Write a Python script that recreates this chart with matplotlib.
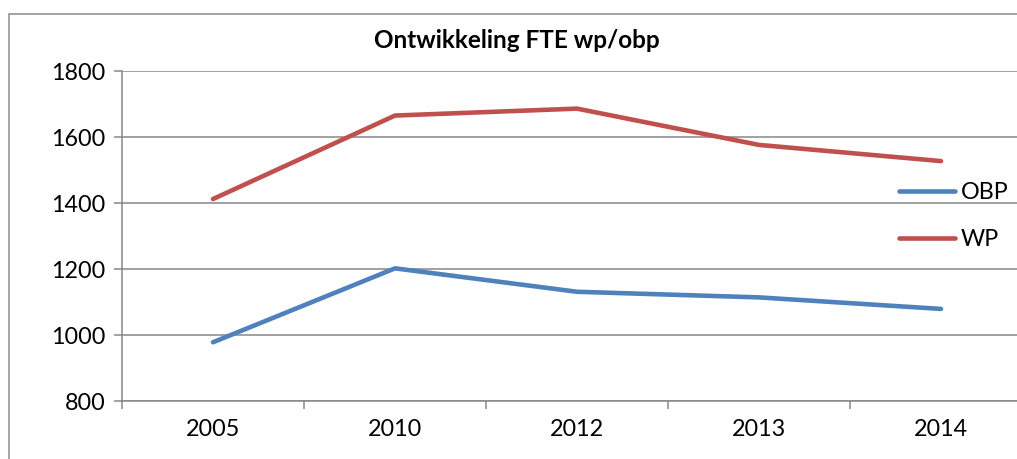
import matplotlib.pyplot as plt
from matplotlib.patches import Rectangle

years = ['2005', '2010', '2012', '2013', '2014']
obp = [978, 1202, 1131, 1114, 1079]
wp = [1412, 1665, 1686, 1576, 1527]
yticks = [800, 1000, 1200, 1400, 1600, 1800]

plt.rcParams['font.family'] = ['Lato', 'DejaVu Sans']
grid_col = '#878787'
fs = 16.8

W, H = 1017, 459
fig = plt.figure(figsize=(W / 100, H / 100), dpi=100)
fig.patch.set_facecolor('white')

# chart border (cropped at right and bottom)
fig.patches.append(Rectangle((9 / W, -0.1), 1.2, 1.1 - 14 / H, transform=fig.transFigure,
                             fill=False, edgecolor='#8c8c8c', linewidth=1.1))

# plot area: x 122..1032 px, y 71..401 px
ax = fig.add_axes([122 / W, 1 - 401 / H, 910 / W, 330 / H])
x = list(range(len(years)))
ax.plot(x, obp, color='#4F81BD', lw=3.3, solid_capstyle='round', label='OBP')
ax.plot(x, wp, color='#C0504D', lw=3.3, solid_capstyle='round', label='WP')

ax.set_xlim(-0.5, len(years) - 0.5)
ax.set_ylim(800, 1800)
ax.set_yticks(yticks)
ax.set_yticklabels([str(v) for v in yticks], fontsize=fs)
ax.set_xticks([i - 0.5 for i in range(len(years) + 1)])
ax.set_xticklabels([])
ax.set_xticks(x, minor=True)
ax.set_xticklabels(years, minor=True, fontsize=fs)
ax.tick_params(axis='x', which='minor', length=0, pad=13)
ax.tick_params(axis='x', which='major', length=6, width=1.1, color=grid_col, direction='out')
ax.tick_params(axis='y', length=6, width=1.1, color=grid_col, direction='out', pad=6)
ax.yaxis.grid(True, color=grid_col, lw=1.1)
ax.set_axisbelow(True)
for s in ['top', 'right']:
    ax.spines[s].set_visible(False)
for s in ['left', 'bottom']:
    ax.spines[s].set_color(grid_col)
    ax.spines[s].set_linewidth(1.1)

leg = ax.legend(loc='upper left', bbox_to_anchor=(899 / W, 1 - 182 / H),
                bbox_transform=fig.transFigure, frameon=False, fontsize=fs,
                handlelength=2.4, handletextpad=0.25, labelspacing=1.1,
                borderpad=0, borderaxespad=0)

fig.text(517 / W, 1 - 40 / H, 'Ontwikkeling FTE wp/obp', ha='center', va='center',
         fontsize=17.5, fontweight='bold')

fig.savefig('out.png', dpi=100)
